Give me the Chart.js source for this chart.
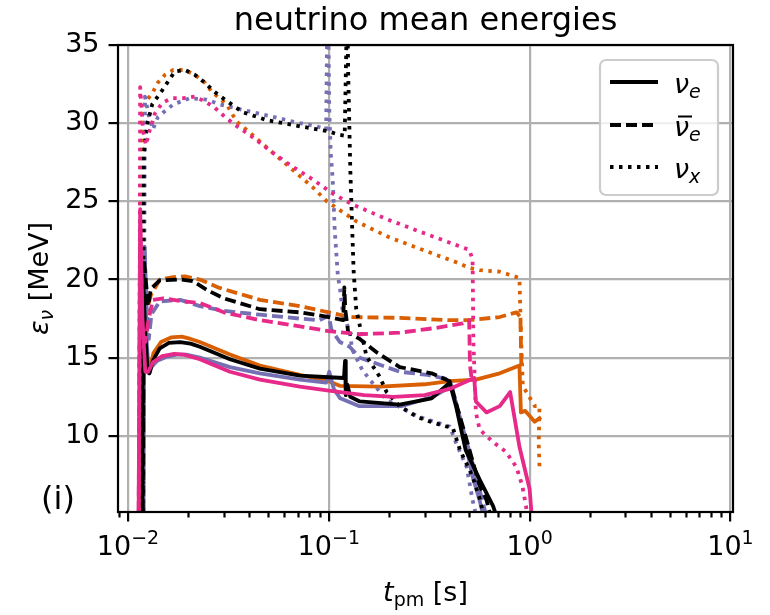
<!DOCTYPE html>
<html>
<head>
<meta charset="utf-8">
<script src="https://cdn.jsdelivr.net/npm/chart.js@4.4.1/dist/chart.umd.min.js"></script>
<style>
  html, body { margin: 0; padding: 0; background: #fff; }
  #wrap { width: 770px; height: 615px; }
</style>
</head>
<body>
<div id="wrap"><canvas id="c" width="770" height="615"></canvas></div>
<script>
// axis limits and ticks
const xMin = 0.00892, xMax = 10.3;
const yMin = 5.13, yMax = 35;
const xTicks = [0.01, 0.1, 1, 10];
const xTickExp = ['\u22122', '\u22121', '0', '1'];
const yTicks = [10, 15, 20, 25, 30, 35];

// [t_pm (s), mean energy (MeV)]
// nu_e (solid)
const nueBlack = [[0.01175,0],[0.0119,20.0],[0.0122,16.5],[0.0125,14.4],[0.0128,14.0],[0.0133,14.8],[0.0144,15.6],[0.016,15.95],[0.0182,16.0],[0.0205,15.9],[0.0228,15.7],[0.0322,14.9],[0.0454,14.3],[0.0718,13.85],[0.1,13.75],[0.119,13.7],[0.1205,14.8],[0.1215,12.6],[0.1235,13.3],[0.128,12.5],[0.1426,12.2],[0.2255,12.0],[0.325,12.4],[0.40,13.4],[0.43,11.9],[0.48,9.1],[0.564,7.2],[0.658,5.5],[0.70,4.5]];
const nueOrange = [[0.0113,0],[0.0116,21.0],[0.0119,16.5],[0.0124,14.2],[0.0128,14.2],[0.0134,15.3],[0.0146,16.0],[0.0165,16.3],[0.0185,16.35],[0.0205,16.2],[0.0228,16.0],[0.0322,15.2],[0.0454,14.5],[0.0718,13.9],[0.1,13.5],[0.1135,13.2],[0.18,13.15],[0.30,13.3],[0.40,13.5],[0.54,13.6],[0.71,14.0],[0.89,14.5],[0.905,11.5],[0.95,11.6],[1.06,10.9],[1.14,11.2]];
const nuePink = [[0.01125,0],[0.0115,24.5],[0.0118,17.5],[0.0122,14.1],[0.0126,14.1],[0.0133,14.7],[0.0148,15.1],[0.017,15.25],[0.019,15.2],[0.0228,14.9],[0.0322,14.1],[0.0454,13.6],[0.0718,13.15],[0.1,12.9],[0.15,12.6],[0.21,12.5],[0.30,12.6],[0.40,13.0],[0.50,13.55],[0.53,13.7],[0.54,12.2],[0.61,11.5],[0.71,11.9],[0.80,12.8],[0.89,9.3],[1.0,6.6],[1.03,4.5]];
const nueBlue = [[0.0119,0],[0.0121,22.0],[0.0124,16.0],[0.0127,14.0],[0.0131,14.4],[0.014,14.8],[0.0155,15.05],[0.0175,15.2],[0.0195,15.2],[0.0228,15.0],[0.0322,14.4],[0.0454,14.0],[0.0718,13.6],[0.097,13.4],[0.1005,14.1],[0.106,13.0],[0.114,12.4],[0.142,11.9],[0.23,11.9],[0.33,12.5],[0.41,13.2],[0.44,11.5],[0.48,9.5],[0.52,7.4],[0.56,6.0],[0.60,4.5]];
// anti nu_e (dashed)
const nuebBlack = [[0.0118,0],[0.012,21.3],[0.0123,19.8],[0.0126,18.3],[0.013,19.4],[0.0144,19.95],[0.0182,20.0],[0.021,19.9],[0.025,19.3],[0.03,18.8],[0.0454,18.1],[0.0718,17.9],[0.1,17.6],[0.118,17.4],[0.1195,19.5],[0.121,18.0],[0.125,16.6],[0.1426,16.2],[0.175,15.3],[0.2255,14.4],[0.325,14.0],[0.40,13.5],[0.465,10.6],[0.564,6.8],[0.61,5.9],[0.65,4.5]];
const nuebOrange = [[0.0113,0],[0.0116,20.5],[0.0119,18.5],[0.0124,18.0],[0.013,19.0],[0.0144,20.0],[0.0168,20.15],[0.0192,20.2],[0.0228,20.0],[0.028,19.5],[0.0454,18.7],[0.0718,18.3],[0.1,17.9],[0.127,17.6],[0.2255,17.55],[0.40,17.4],[0.50,17.4],[0.71,17.6],[0.86,17.9],[0.90,17.6],[0.91,14.4]];
const nuebPink = [[0.01125,0],[0.0115,23.5],[0.0118,17.0],[0.0122,16.0],[0.0127,17.5],[0.0133,18.7],[0.015,18.8],[0.019,18.6],[0.0228,18.5],[0.03,17.9],[0.0454,17.4],[0.0718,17.0],[0.1,16.7],[0.1426,16.5],[0.2255,16.6],[0.34,16.9],[0.465,17.2],[0.50,17.4],[0.505,14.5],[0.515,13.6]];
const nuebBlue = [[0.0119,0],[0.0121,22.1],[0.0124,18.0],[0.0127,16.2],[0.0131,17.8],[0.0144,18.6],[0.0182,18.7],[0.0228,18.3],[0.03,18.0],[0.0454,17.75],[0.0718,17.5],[0.09,17.4],[0.1,17.7],[0.103,16.8],[0.1135,16.0],[0.127,15.7],[0.1426,15.0],[0.2255,14.1],[0.31,13.9],[0.40,13.6],[0.465,10.5],[0.54,7.5],[0.58,5.9],[0.62,4.5]];
// nu_x (dotted)
const nuxBlack = [[0.0118,0],[0.012,28.0],[0.0124,29.8],[0.0132,31.2],[0.0148,32.1],[0.0171,33.3],[0.0192,33.4],[0.0215,33.1],[0.0241,32.6],[0.027,32.0],[0.0304,31.5],[0.0373,30.7],[0.049,30.2],[0.0718,29.8],[0.0978,29.5],[0.1135,29.25],[0.12,29.2],[0.1235,38],[0.125,33],[0.128,27],[0.131,23],[0.133,20.5],[0.137,18.1],[0.154,15.1],[0.179,13.8],[0.194,12.8],[0.2255,11.9],[0.276,11.2],[0.33,10.85],[0.385,10.6],[0.415,10.5],[0.45,9.1],[0.52,7.4],[0.564,6.0],[0.60,4.5]];
const nuxOrange = [[0.0113,0],[0.0115,24],[0.0117,30.4],[0.0121,31.3],[0.0132,31.9],[0.0141,32.6],[0.0153,33.1],[0.0168,33.4],[0.0192,33.4],[0.0215,33.1],[0.0241,32.6],[0.0262,32.0],[0.031,31.2],[0.0348,30.1],[0.0404,29.4],[0.0527,28.1],[0.0663,27.0],[0.0832,25.9],[0.0978,25.0],[0.138,23.7],[0.20,22.7],[0.293,21.9],[0.432,21.1],[0.50,20.75],[0.564,20.6],[0.71,20.5],[0.89,20.1],[0.905,16.6],[0.925,13.2],[1.06,11.9],[1.12,11.9],[1.11,9.5],[1.12,8.0]];
const nuxPink = [[0.01135,0],[0.0115,32.3],[0.0119,29.5],[0.0123,28.6],[0.0128,29.5],[0.0136,30.6],[0.0148,31.3],[0.0166,31.6],[0.0188,31.6],[0.0215,31.7],[0.0241,31.4],[0.027,31.0],[0.0304,30.4],[0.034,29.9],[0.0418,29.1],[0.0527,28.1],[0.0663,27.2],[0.0832,26.4],[0.1046,25.5],[0.131,24.8],[0.20,23.8],[0.293,23.0],[0.432,22.2],[0.50,21.9],[0.52,21.3],[0.525,16],[0.54,11.5],[0.564,10.4],[0.658,9.6],[0.76,9.0],[0.86,8.0],[0.92,6.8],[0.96,5.5],[0.98,4.5]];
const nuxBlue = [[0.0119,0],[0.01215,31.7],[0.0127,30.5],[0.0133,29.6],[0.0141,30.4],[0.0168,31.2],[0.0203,31.6],[0.0247,31.5],[0.0287,31.2],[0.0333,31.0],[0.0418,30.7],[0.057,30.3],[0.0718,30.0],[0.087,29.8],[0.097,29.6],[0.0985,38],[0.0995,36],[0.1005,31],[0.1023,28],[0.1046,26.4],[0.107,23.2],[0.111,20.2],[0.1135,19.5],[0.117,18.1],[0.127,16.6],[0.131,15.5],[0.147,14.2],[0.16,13.6],[0.194,12.3],[0.253,11.5],[0.284,11.2],[0.345,10.85],[0.40,10.6],[0.432,9.5],[0.486,8.0],[0.52,5.9],[0.55,4.5]];

const black = '#000000', orange = '#d95f02', blue = '#7570b3', pink = '#e7298a';
const lw = 3.8;
const solid = [], dashed = [11, 5], dotted = [3.5, 5.5];
const FONT = 'DejaVu Sans';

const toPts = arr => arr.map(([x, y]) => ({ x, y }));
function series(data, color, dash, order) {
  return {
    data: toPts(data),
    borderColor: color,
    borderWidth: lw,
    borderDash: dash,
    borderCapStyle: 'butt',
    borderJoinStyle: 'round',
    pointRadius: 0,
    tension: 0,
    fill: false,
    order: order
  };
}

// draws a row of text pieces (font, text, baseline shift) centred on cx
function drawRuns(ctx, runs, cx, y) {
  let w = 0;
  runs.forEach(r => { ctx.font = r.font; w += ctx.measureText(r.text).width; });
  let x = cx - w / 2;
  runs.forEach(r => {
    ctx.font = r.font;
    ctx.fillText(r.text, x, y + (r.dy || 0));
    x += ctx.measureText(r.text).width;
  });
}

const decor = {
  id: 'decor',
  afterDraw(chart) {
    const ctx = chart.ctx;
    const a = chart.chartArea;
    const xs = chart.scales.x;
    ctx.save();
    ctx.fillStyle = '#000';
    ctx.strokeStyle = '#000';
    ctx.textAlign = 'left';
    ctx.textBaseline = 'alphabetic';

    // minor ticks on the log axis
    ctx.lineWidth = 2.2;
    for (let d = -3; d <= 1; d++) {
      for (let m = 2; m <= 9; m++) {
        const v = m * Math.pow(10, d);
        if (v < xMin || v > xMax) continue;
        const px = Math.round(xs.getPixelForValue(v)) + 0.5;
        ctx.beginPath();
        ctx.moveTo(px, a.bottom);
        ctx.lineTo(px, a.bottom + 5.5);
        ctx.stroke();
      }
    }

    // decade labels 10^n
    xTicks.forEach((v, i) => {
      const px = xs.getPixelForValue(v);
      drawRuns(ctx, [
        { text: '10', font: '27px ' + FONT },
        { text: xTickExp[i], font: '19px ' + FONT, dy: -11 }
      ], px, 555);
    });

    // spines
    ctx.lineWidth = 2.2;
    ctx.strokeRect(a.left, a.top, a.right - a.left, a.bottom - a.top);

    // title
    ctx.font = '32px ' + FONT;
    ctx.textAlign = 'center';
    ctx.fillText('neutrino mean energies', (a.left + a.right) / 2, 30);
    ctx.textAlign = 'left';

    // x label
    drawRuns(ctx, [
      { text: 't', font: 'italic 27px ' + FONT },
      { text: 'pm', font: '19px ' + FONT, dy: 5 },
      { text: ' [s]', font: '27px ' + FONT }
    ], (a.left + a.right) / 2, 601);

    // y label
    ctx.save();
    ctx.translate(48, (a.top + a.bottom) / 2);
    ctx.rotate(-Math.PI / 2);
    drawRuns(ctx, [
      { text: '\u03B5', font: 'italic 27px ' + FONT },
      { text: '\u03BD', font: 'italic 19px ' + FONT, dy: 5 },
      { text: ' [MeV]', font: '27px ' + FONT }
    ], 0, 0);
    ctx.restore();

    // panel tag
    ctx.font = '32px ' + FONT;
    ctx.fillText('(i)', 41, 509);

    // legend
    const lx = 600, ly = 60, lwid = 118, lh = 135;
    ctx.beginPath();
    ctx.roundRect(lx, ly, lwid, lh, 6);
    ctx.fillStyle = 'rgba(255,255,255,0.8)';
    ctx.fill();
    ctx.strokeStyle = '#cccccc';
    ctx.lineWidth = 2.2;
    ctx.stroke();
    const rows = [
      { y: 82, dash: solid, sub: 'e', bar: false },
      { y: 125, dash: dashed, sub: 'e', bar: true },
      { y: 167, dash: dotted, sub: 'x', bar: false }
    ];
    rows.forEach(r => {
      ctx.strokeStyle = '#000';
      ctx.lineWidth = lw;
      ctx.lineCap = 'butt';
      ctx.setLineDash(r.dash);
      ctx.beginPath();
      ctx.moveTo(610, r.y);
      ctx.lineTo(658, r.y);
      ctx.stroke();
      ctx.setLineDash([]);
      ctx.fillStyle = '#000';
      const base = r.y + 10.5;
      ctx.font = 'italic 27px ' + FONT;
      ctx.fillText('\u03BD', 674, base);
      const nw = ctx.measureText('\u03BD').width;
      ctx.font = 'italic 19px ' + FONT;
      ctx.fillText(r.sub, 674 + nw, base + 5);
      if (r.bar) {
        ctx.lineWidth = 2;
        ctx.beginPath();
        ctx.moveTo(678, base - 19);
        ctx.lineTo(692, base - 19);
        ctx.stroke();
      }
    });
    ctx.restore();
  }
};

new Chart(document.getElementById('c'), {
  type: 'line',
  data: {
    datasets: [
      series(nuePink, pink, solid, 0),
      series(nuebPink, pink, dashed, 1),
      series(nuxPink, pink, dotted, 2),
      series(nueBlack, black, solid, 3),
      series(nuebBlack, black, dashed, 4),
      series(nuxBlack, black, dotted, 5),
      series(nueBlue, blue, solid, 6),
      series(nuebBlue, blue, dashed, 7),
      series(nuxBlue, blue, dotted, 8),
      series(nueOrange, orange, solid, 9),
      series(nuebOrange, orange, dashed, 10),
      series(nuxOrange, orange, dotted, 11)
    ]
  },
  options: {
    responsive: false,
    animation: false,
    devicePixelRatio: 1,
    events: [],
    layout: { padding: { top: 45, right: 37, left: 0, bottom: 0 } },
    plugins: {
      legend: { display: false },
      tooltip: { enabled: false },
      title: { display: false }
    },
    scales: {
      x: {
        type: 'logarithmic',
        min: xMin,
        max: xMax,
        afterBuildTicks: s => { s.ticks = xTicks.map(v => ({ value: v })); },
        afterFit: s => { s.height = 103; },
        border: { display: false },
        grid: { color: '#b0b0b0', lineWidth: 2.2, tickColor: '#000', tickWidth: 2.2, tickLength: 9.5 },
        ticks: {
          autoSkip: false,
          maxRotation: 0,
          color: 'rgba(0,0,0,0)',
          font: { family: FONT, size: 27 },
          callback: () => ''
        }
      },
      y: {
        type: 'linear',
        min: yMin,
        max: yMax,
        afterBuildTicks: s => { s.ticks = yTicks.map(v => ({ value: v })); },
        afterFit: s => { s.width = 118; },
        border: { display: false },
        grid: { color: '#b0b0b0', lineWidth: 2.2, tickColor: '#000', tickWidth: 2.2, tickLength: 9.5 },
        ticks: {
          padding: 9,
          color: '#000',
          font: { family: FONT, size: 27 },
          callback: v => String(v)
        }
      }
    }
  },
  plugins: [decor]
});
</script>
</body>
</html>
